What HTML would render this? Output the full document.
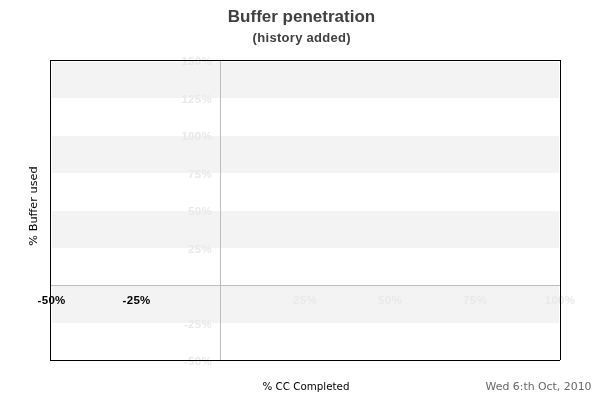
<!DOCTYPE html>
<html><head><meta charset="utf-8"><title>Buffer penetration</title>
<style>
html,body{margin:0;padding:0;background:#fff;width:600px;height:400px;overflow:hidden}
svg{display:block;will-change:transform}
.b{font-family:"Liberation Sans",Arial,sans-serif;font-weight:bold}
.d{font-family:"DejaVu Sans",Verdana,sans-serif}
.lg{fill:#e9e9e9}
</style></head><body>
<svg width="600" height="400" viewBox="0 0 600 400" xmlns="http://www.w3.org/2000/svg">
<rect width="600" height="400" fill="#fff"/>
<g fill="#f3f3f3" shape-rendering="crispEdges">
<rect x="52" y="62" width="507" height="36"/>
<rect x="52" y="136" width="507" height="37"/>
<rect x="52" y="211" width="507" height="37"/>
<rect x="52" y="286" width="507" height="37"/>
</g>
<g class="b lg" font-size="11.5" letter-spacing="0.3" text-anchor="end">
<text x="212" y="65">150%</text>
<text x="212" y="103">125%</text>
<text x="212" y="140">100%</text>
<text x="212" y="178">75%</text>
<text x="212" y="215">50%</text>
<text x="212" y="253">25%</text>
<text x="212" y="328">-25%</text>
<text x="212" y="365">-50%</text>
</g>
<g shape-rendering="crispEdges">
<rect x="220" y="61" width="1" height="299" fill="#bdbdbd"/>
<rect x="51" y="285" width="509" height="1" fill="#bdbdbd"/>
</g>
<g class="b" font-size="11.5" letter-spacing="0.3" text-anchor="middle">
<text x="51.6" y="304" fill="#000">-50%</text>
<text x="136.6" y="304" fill="#000">-25%</text>
<text class="lg" x="305" y="304">25%</text>
<text class="lg" x="390" y="304">50%</text>
<text class="lg" x="475" y="304">75%</text>
<text class="lg" x="560" y="304">100%</text>
</g>
<g fill="#000" shape-rendering="crispEdges">
<rect x="50" y="60" width="511" height="1"/>
<rect x="50" y="60" width="1" height="301"/>
<rect x="560" y="60" width="1" height="300"/>
<rect x="50" y="360" width="510" height="1"/>
</g>
<text class="b" x="301.5" y="22" font-size="17" text-anchor="middle" fill="#404040">Buffer penetration</text>
<text class="b" x="301.8" y="42" font-size="13" letter-spacing="0.3" text-anchor="middle" fill="#404040">(history added)</text>
<text class="d" x="306" y="390" font-size="10.3" text-anchor="middle" fill="#000">% CC Completed</text>
<text class="d" x="591.5" y="390" font-size="10.9" text-anchor="end" fill="#666">Wed 6:th Oct, 2010</text>
<text class="d" transform="translate(37,206) rotate(-90)" font-size="11.3" text-anchor="middle" fill="#000">% Buffer used</text>
</svg>
</body></html>
